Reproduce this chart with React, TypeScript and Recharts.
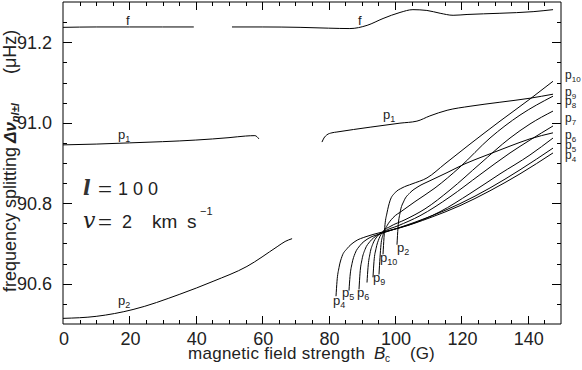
import React from "react";
import { LineChart, Line, XAxis, YAxis, ReferenceArea } from "recharts";

type Pt = [number, number];

// magnetic field (G) vs frequency splitting (µHz)
const fLeft: Pt[] = [[0, 91.237], [10, 91.238], [20, 91.238], [30, 91.238], [39.4, 91.238]];
const fRight: Pt[] = [
  [50.9, 91.238], [60, 91.238], [71.4, 91.237], [80, 91.235], [86.4, 91.234], [91.6, 91.242],
  [96.4, 91.259], [101.5, 91.274], [105.4, 91.281], [109.6, 91.279], [113.6, 91.272],
  [117.5, 91.267], [121.7, 91.269], [131.6, 91.272], [141.6, 91.276], [147.6, 91.281],
];
const p1Left: Pt[] = [
  [0, 90.945], [10, 90.947], [20, 90.95], [30, 90.953], [40, 90.957], [50, 90.963],
  [55, 90.967], [57.8, 90.968], [59, 90.96],
];
const p1Right: Pt[] = [
  [78.0, 90.952], [78.6, 90.962], [79.5, 90.97], [81.0, 90.975], [82.5, 90.977], [92.5, 90.989],
  [101.5, 90.999], [106.6, 91.004], [110.5, 91.017], [115.7, 91.031], [122.6, 91.041],
  [131.6, 91.051], [140.7, 91.061], [147.6, 91.071],
];
const p2Left: Pt[] = [
  [0, 90.514], [10, 90.519], [21.1, 90.536], [35.2, 90.574], [45.2, 90.606], [55.4, 90.643],
  [64.5, 90.692], [66.9, 90.705], [69.0, 90.712],
];
const p2Right: Pt[] = [
  [100.6, 90.697], [100.9, 90.739], [101.51, 90.776], [102.71, 90.806], [104.52, 90.826],
  [106.93, 90.841], [110.54, 90.856], [115.66, 90.876], [121.08, 90.898], [127.11, 90.918],
  [134.64, 90.942], [140.66, 90.96], [147.59, 90.975],
];
const p4: Pt[] = [
  [82.23, 90.569], [82.53, 90.606], [83.13, 90.64], [84.04, 90.668], [85.54, 90.687],
  [87.95, 90.705], [91.27, 90.717], [95.48, 90.727], [101.51, 90.739], [110.54, 90.764],
  [119.58, 90.794], [128.61, 90.831], [137.65, 90.873], [147.59, 90.925],
];
const p5: Pt[] = [
  [86.14, 90.583], [86.45, 90.618], [87.05, 90.65], [87.95, 90.675], [89.46, 90.695],
  [91.87, 90.712], [95.48, 90.724], [101.51, 90.74], [110.54, 90.767], [119.58, 90.799],
  [128.61, 90.838], [137.65, 90.883], [147.59, 90.937],
];
const p6: Pt[] = [
  [89.16, 90.586], [89.46, 90.626], [90.06, 90.66], [90.96, 90.685], [92.47, 90.705],
  [94.58, 90.72], [98.49, 90.732], [104.52, 90.747], [113.55, 90.779], [122.59, 90.824],
  [131.63, 90.873], [140.66, 90.92], [147.59, 90.962],
];
const p7: Pt[] = [
  [91.57, 90.603], [91.87, 90.64], [92.47, 90.675], [93.37, 90.7], [94.58, 90.717],
  [96.69, 90.73], [100.9, 90.744], [107.53, 90.769], [116.57, 90.816], [125.6, 90.871],
  [134.64, 90.925], [140.66, 90.957], [147.59, 90.992],
];
const p8: Pt[] = [
  [93.37, 90.616], [93.67, 90.655], [94.28, 90.687], [95.18, 90.712], [96.39, 90.73],
  [98.49, 90.742], [103.01, 90.759], [109.04, 90.786], [116.57, 90.833], [125.6, 90.898],
  [134.64, 90.962], [140.66, 90.997], [147.59, 91.029],
];
const p9: Pt[] = [
  [95.18, 90.623], [95.48, 90.665], [95.78, 90.697], [96.39, 90.722], [97.59, 90.744],
  [99.4, 90.764], [102.11, 90.781], [106.02, 90.804], [112.05, 90.838], [119.58, 90.89],
  [128.61, 90.962], [137.65, 91.019], [147.59, 91.066],
];
const p10: Pt[] = [
  [96.39, 90.673], [96.69, 90.715], [96.99, 90.747], [97.59, 90.776], [98.49, 90.806],
  [100.0, 90.826], [102.11, 90.838], [105.12, 90.848], [109.64, 90.863], [115.06, 90.898],
  [122.59, 90.947], [131.63, 91.004], [140.66, 91.059], [147.59, 91.103],
];

const xMajor = [0, 20, 40, 60, 80, 100, 120, 140];
const xMinor = [
  5, 10, 15, 20, 25, 30, 35, 40, 45, 50, 55, 60, 65, 70, 75, 80, 85, 90, 95, 100,
  105, 110, 115, 120, 125, 130, 135, 140, 145,
];
const yMajor = [90.6, 90.8, 91.0, 91.2];
const yMinor = [
  90.55, 90.6, 90.65, 90.7, 90.75, 90.8, 90.85, 90.9, 90.95, 91.0, 91.05, 91.1,
  91.15, 91.2, 91.25,
];

const series: { key: string; pts: Pt[] }[] = [
  { key: "fLeft", pts: fLeft },
  { key: "fRight", pts: fRight },
  { key: "p1Left", pts: p1Left },
  { key: "p1Right", pts: p1Right },
  { key: "p2Left", pts: p2Left },
  { key: "p2Right", pts: p2Right },
  { key: "p4", pts: p4 },
  { key: "p5", pts: p5 },
  { key: "p6", pts: p6 },
  { key: "p7", pts: p7 },
  { key: "p8", pts: p8 },
  { key: "p9", pts: p9 },
  { key: "p10", pts: p10 },
];

const FONT = "'Liberation Sans', Arial, sans-serif";
const INK = "#222";
const W = 582;
const H = 370;
const MARGIN = { top: 2, right: 21, bottom: 0, left: 0 };
const Y_AXIS_W = 63;
const X_AXIS_H = 46;
const X_DOMAIN: [number, number] = [0, 150];
const Y_DOMAIN: [number, number] = [90.5, 91.3];
const MAJOR = 8;
const MINOR = 4;

// plot box implied by the margins and axis sizes above (same as the chart's)
const box = {
  left: MARGIN.left + Y_AXIS_W,
  right: W - MARGIN.right,
  top: MARGIN.top,
  bottom: H - MARGIN.bottom - X_AXIS_H,
};
const sx = (v: number) => box.left + ((v - X_DOMAIN[0]) / (X_DOMAIN[1] - X_DOMAIN[0])) * (box.right - box.left);
const sy = (v: number) => box.bottom - ((v - Y_DOMAIN[0]) / (Y_DOMAIN[1] - Y_DOMAIN[0])) * (box.bottom - box.top);
const px = (v: number) => Math.round(v) + 0.5;

const toRows = (pts: Pt[]) => pts.map(([x, v]) => ({ x, v }));
const majorX = (v: number) => xMajor.includes(v);
const majorY = (v: number) => yMajor.some((m) => Math.abs(m - v) < 1e-6);

// inward tick marks on all four sides
const tickPath = [
  ...xMinor.map((t) => {
    const x = px(sx(t));
    const l = majorX(t) ? MAJOR : MINOR;
    return `M${x},${box.bottom}v${-l}M${x},${box.top}v${l}`;
  }),
  ...yMinor.map((t) => {
    const y = px(sy(t));
    const l = majorY(t) ? MAJOR + 1 : MINOR;
    return `M${box.left},${y}h${l}M${box.right},${y}h${-l}`;
  }),
].join("");

const BottomLabel = ({ x, y, payload }: any) => (
  <text x={x + 1} y={y + 21} textAnchor="middle" fontSize={18} fill={INK} fontFamily={FONT}>
    {payload.value}
  </text>
);
const LeftLabel = ({ x, y, payload }: any) => (
  <text x={x - 11} y={y + 6.5} textAnchor="end" fontSize={18} fill={INK} fontFamily={FONT}>
    {Number(payload.value).toFixed(1)}
  </text>
);

const PLabel = ({ x, y, n, size = 13 }: { x: number; y: number; n: string | number; size?: number }) => (
  <text x={x} y={y} fontSize={size}>
    p<tspan fontSize={size - 4} dy={3}>{n}</tspan>
  </text>
);

const axisCommon = { tickSize: 0, tickMargin: 0, interval: 0 as const, axisLine: false, tickLine: false, allowDataOverflow: true };

export default function App() {
  return (
    <div style={{ position: "fixed", left: 0, top: 0, width: W, height: H, background: "#fff" }}>
      <LineChart width={W} height={H} margin={MARGIN}>
        <XAxis xAxisId="b" dataKey="x" type="number" domain={X_DOMAIN} ticks={xMajor} height={X_AXIS_H}
          tick={<BottomLabel />} {...axisCommon} />
        <YAxis yAxisId="l" type="number" domain={Y_DOMAIN} ticks={yMajor} width={Y_AXIS_W}
          tick={<LeftLabel />} {...axisCommon} />

        <ReferenceArea xAxisId="b" yAxisId="l" x1={X_DOMAIN[0]} x2={X_DOMAIN[1]} y1={Y_DOMAIN[0]}
          y2={Y_DOMAIN[1]} fill="none" fillOpacity={0} stroke="#000" strokeWidth={1} ifOverflow="visible" />

        {series.map((s) => (
          <Line key={s.key} name={s.key} xAxisId="b" yAxisId="l" data={toRows(s.pts)} dataKey="v"
            type="monotone" stroke="#000" strokeWidth={1} dot={false} activeDot={false}
            isAnimationActive={false} />
        ))}
      </LineChart>

      <svg width={W} height={H} style={{ position: "absolute", left: 0, top: 0, pointerEvents: "none" }}
        fontFamily={FONT} fill={INK}>
        <path d={tickPath} stroke="#000" strokeWidth={1} fill="none" />

        {/* axis titles */}
        <text x={188} y={359} fontSize={17} textLength={177} lengthAdjust="spacing">magnetic field strength</text>
        <text x={374} y={359} fontSize={17} fontStyle="italic">B</text>
        <text x={385} y={362} fontSize={10}>c</text>
        <text x={410} y={359} fontSize={17}>(G)</text>
        <g transform="rotate(-90)">
          <text x={-292} y={16} fontSize={18}>frequency splitting</text>
          <text x={-143} y={16} fontSize={17} fontWeight="bold" fontStyle="italic">
            Δν<tspan fontSize={11} dy={3}>nl±l</tspan>
          </text>
          <text x={-74} y={16} fontSize={18}>(μHz)</text>
        </g>

        {/* parameters */}
        <text x={83} y={195} fontSize={20} fontFamily="'DejaVu Serif', serif" fontStyle="italic" fontWeight="bold" fill="#333">l</text>
        <text x={98} y={195} fontSize={18} textLength={14} lengthAdjust="spacingAndGlyphs">=</text>
        <text x={118} y={195} fontSize={18} textLength={40} lengthAdjust="spacing">100</text>
        <text x={83} y={228} fontSize={22} fontFamily="'DejaVu Serif', serif" fontStyle="italic">v</text>
        <text x={98} y={228} fontSize={18} textLength={14} lengthAdjust="spacingAndGlyphs">=</text>
        <text x={122} y={228} fontSize={18}>2</text>
        <text x={152} y={228} fontSize={19}>km</text>
        <text x={187} y={228} fontSize={19}>s</text>
        <text x={200} y={215} fontSize={11}>−1</text>

        {/* curve labels */}
        <text x={126} y={25} fontSize={13}>f</text>
        <text x={358} y={25} fontSize={13}>f</text>
        <PLabel x={118} y={139} n={1} />
        <PLabel x={383} y={119} n={1} />
        <PLabel x={118} y={305} n={2} />
        <PLabel x={565} y={79} n={10} size={12} />
        <PLabel x={565} y={96} n={9} size={12} />
        <PLabel x={565} y={105} n={8} size={12} />
        <PLabel x={565} y={122} n={7} size={12} />
        <PLabel x={565} y={139} n={6} size={12} />
        <PLabel x={565} y={148.5} n={5} size={12} />
        <PLabel x={565} y={159} n={4} size={12} />
        <PLabel x={333} y={305} n={4} />
        <PLabel x={342} y={297} n={5} />
        <PLabel x={357} y={297} n={6} />
        <PLabel x={373} y={282} n={9} />
        <PLabel x={380} y={262} n={10} />
        <PLabel x={397} y={252} n={2} />
      </svg>
    </div>
  );
}
